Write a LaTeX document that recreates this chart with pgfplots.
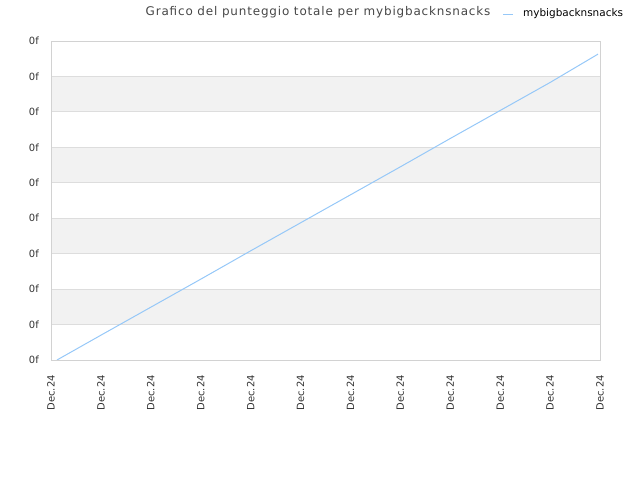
\documentclass[border=0pt]{standalone}
\usepackage{fontspec}
\setmainfont{DejaVu Sans}
\usepackage{pgfplots}
\pgfplotsset{compat=1.18}
\definecolor{serie}{RGB}{150,200,248}
\definecolor{band}{RGB}{242,242,242}
\definecolor{gridc}{RGB}{221,221,221}
\definecolor{frame}{RGB}{210,210,210}
\definecolor{titlec}{RGB}{70,70,70}
\definecolor{tickc}{RGB}{50,50,50}

\begin{document}
\begin{tikzpicture}
\begin{axis}[
    set layers=standard,
    scale only axis,
    anchor=south west,
    at={(51bp,120bp)},
    width=549bp, height=319bp,
    xmin=0, xmax=11, ymin=0, ymax=9,
    xtick={0,...,11},
    xticklabels={Dec.24,Dec.24,Dec.24,Dec.24,Dec.24,Dec.24,Dec.24,Dec.24,Dec.24,Dec.24,Dec.24,Dec.24},
    ytick={0,...,9},
    yticklabels={0f,0f,0f,0f,0f,0f,0f,0f,0f,0f},
    x tick label style={rotate=90, anchor=east, font=\fontsize{10}{11}\selectfont, text=tickc, inner sep=0pt, xshift=-15bp},
    y tick label style={font=\fontsize{10}{11}\selectfont, text=tickc, inner sep=0pt, xshift=-12bp},
    major tick length=0pt,
    ymajorgrids,
    grid style={gridc, line width=0.8bp},
    axis line style={frame, line width=0.8bp},
]
\begin{pgfonlayer}{axis background}
\fill[band] (axis cs:0,1) rectangle (axis cs:11,2);
\fill[band] (axis cs:0,3) rectangle (axis cs:11,4);
\fill[band] (axis cs:0,5) rectangle (axis cs:11,6);
\fill[band] (axis cs:0,7) rectangle (axis cs:11,8);
\end{pgfonlayer}
\addplot[serie, line width=1bp, no marks] coordinates {
    (0.12,0) (1.0,0.70) (2.0,1.49) (3.0,2.28) (4.0,3.08) (5.0,3.87)
    (6.0,4.66) (7.0,5.45) (8.0,6.25) (9.0,7.04) (10.0,7.83) (10.96,8.63)
};
\end{axis}
\node[text=titlec, font=\fontsize{12}{13}\selectfont\addfontfeature{LetterSpace=7}] at (318bp,468bp) {Grafico del punteggio totale per mybigbacknsnacks};
\draw[serie, line width=1bp] (503bp,465bp) -- (513bp,465bp);
\node[anchor=west, inner sep=0pt, font=\fontsize{10.5}{11}\selectfont] at (523bp,466bp) {mybigbacknsnacks};
\path[use as bounding box] (0bp,0bp) rectangle (640bp,480bp);
\end{tikzpicture}
\end{document}
